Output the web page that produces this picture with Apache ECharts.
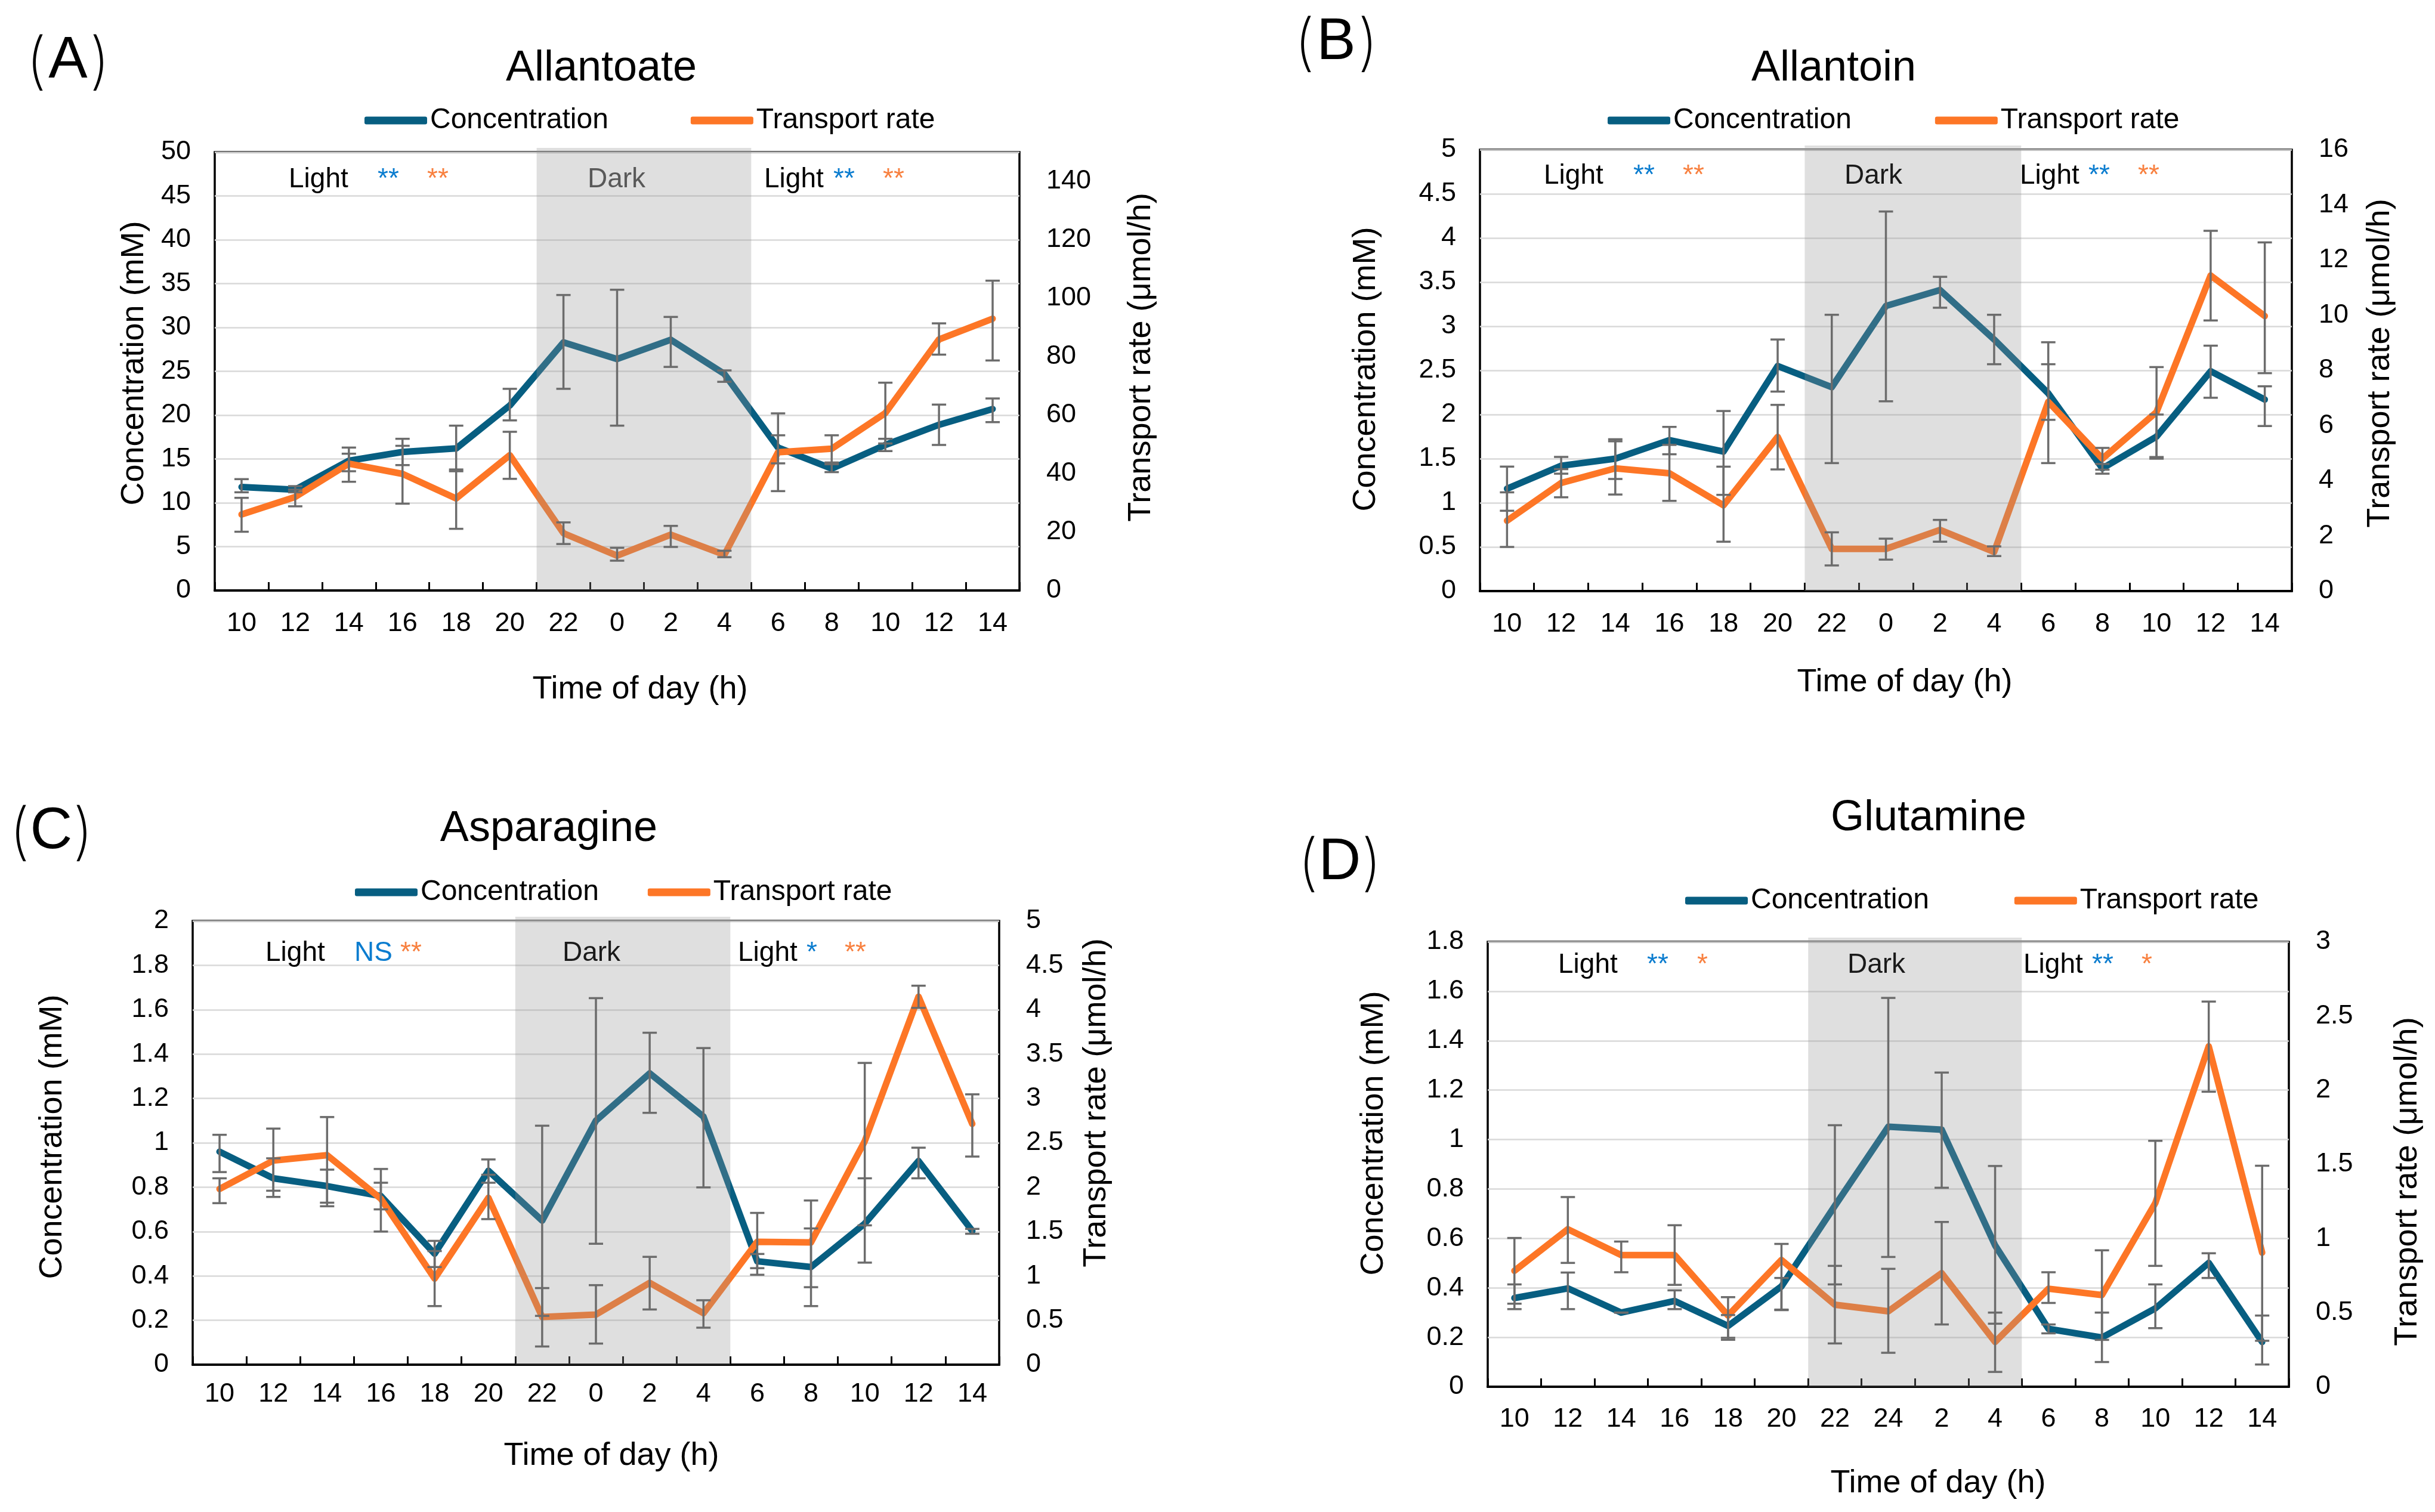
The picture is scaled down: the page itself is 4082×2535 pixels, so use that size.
<!DOCTYPE html>
<html><head><meta charset="utf-8">
<script src="https://cdn.jsdelivr.net/npm/echarts/dist/echarts.min.js"></script>
<style>html,body{margin:0;padding:0;background:#fff}#c{width:4082px;height:2535px}</style>
</head><body><div id="c"></div>
<script>
// ---------- categories ----------
const hoursAC = ['10','12','14','16','18','20','22','0','2','4','6','8','10','12','14'];
const hoursD  = ['10','12','14','16','18','20','22','24','2','4','6','8','10','12','14'];
const darkRange = [6, 9]; // dark period: category index 6 ('22') .. 9 ('4')

// ---------- (A) Allantoate ----------
const concA   = [11.8, 11.5, 14.8, 15.8, 16.2, 21.1, 28.3, 26.4, 28.6, 24.7, 16.3, 13.9, 16.6, 18.9, 20.7];
const concAHi = [12.7, 11.9, 16.3, 17.3, 18.8, 23.0, 33.7, 34.3, 31.2, 25.1, 17.7, 14.4, 17.3, 21.2, 21.9];
const concALo = [11.2, 11.2, 13.6, 14.3, 13.6, 19.4, 23.0, 18.8, 25.5, 23.8, 14.5, 13.5, 15.9, 16.6, 19.2];
const rateA   = [26.0, 32.0, 43.4, 39.9, 31.5, 46.3, 19.6, 11.9, 19.1, 12.2, 47.3, 48.5, 60.7, 85.9, 93.0];
const rateAHi = [31.7, 34.5, 46.8, 49.5, 41.4, 54.3, 23.3, 14.6, 22.1, 13.6, 60.6, 53.1, 71.1, 91.4, 106.0];
const rateALo = [20.1, 28.8, 37.2, 29.7, 21.1, 38.2, 15.9, 10.2, 14.9, 11.4, 34.0, 43.8, 50.3, 80.7, 78.7];
const axisA = [50, 5, 150, 20]; // left max, left step, right max, right step

// ---------- (B) Allantoin ----------
const concB   = [1.16, 1.42, 1.50, 1.71, 1.58, 2.55, 2.31, 3.23, 3.41, 2.85, 2.24, 1.39, 1.75, 2.49, 2.17];
const concBHi = [1.41, 1.52, 1.72, 1.86, 2.04, 2.85, 3.13, 4.30, 3.56, 3.13, 2.57, 1.44, 2.00, 2.78, 2.32];
const concBLo = [0.91, 1.33, 1.27, 1.55, 1.09, 2.26, 1.45, 2.15, 3.21, 2.57, 1.94, 1.33, 1.50, 2.19, 1.87];
const rateB   = [2.55, 3.92, 4.45, 4.27, 3.11, 5.59, 1.53, 1.53, 2.22, 1.42, 6.86, 4.80, 6.49, 11.44, 9.97];
const rateBHi = [3.58, 4.42, 5.43, 5.30, 4.51, 6.75, 2.13, 1.90, 2.58, 1.62, 9.02, 5.19, 8.12, 13.06, 12.64];
const rateBLo = [1.60, 3.40, 3.50, 3.27, 1.79, 4.41, 0.93, 1.14, 1.79, 1.27, 4.64, 4.40, 4.86, 9.81, 7.90];
const axisB = [5, 0.5, 16, 2];

// ---------- (C) Asparagine ----------
const concC   = [0.96, 0.84, 0.805, 0.76, 0.50, 0.874, 0.649, 1.10, 1.313, 1.118, 0.466, 0.44, 0.636, 0.918, 0.603];
const concCHi = [1.036, 0.93, 0.879, 0.82, 0.558, 0.925, 1.077, 1.652, 1.496, 1.427, 0.499, 0.614, 0.84, 0.978, 0.612];
const concCLo = [0.868, 0.756, 0.73, 0.70, 0.44, 0.82, 0.22, 0.545, 1.135, 0.799, 0.435, 0.264, 0.46, 0.84, 0.59];
const rateC   = [1.98, 2.30, 2.36, 1.87, 0.97, 1.88, 0.537, 0.564, 0.922, 0.58, 1.384, 1.378, 2.518, 4.147, 2.713];
const rateCHi = [2.10, 2.66, 2.79, 2.205, 1.28, 2.14, 0.863, 0.896, 1.215, 0.726, 1.71, 1.85, 3.40, 4.27, 3.046];
const rateCLo = [1.82, 1.96, 1.785, 1.50, 0.66, 1.64, 0.205, 0.238, 0.622, 0.417, 1.013, 0.873, 1.57, 4.02, 2.345];
const axisC = [2, 0.2, 5, 0.5];

// ---------- (D) Glutamine ----------
const concD   = [0.359, 0.398, 0.30, 0.347, 0.246, 0.406, 0.732, 1.052, 1.04, 0.572, 0.234, 0.199, 0.317, 0.501, 0.181];
const concDHi = [0.414, 0.462, 0.30, 0.39, 0.29, 0.44, 1.058, 1.573, 1.271, 0.893, 0.252, 0.30, 0.414, 0.54, 0.288];
const concDLo = [0.314, 0.314, 0.30, 0.314, 0.19, 0.31, 0.414, 0.525, 0.805, 0.255, 0.216, 0.10, 0.237, 0.44, 0.09];
const rateD   = [0.782, 1.062, 0.888, 0.888, 0.48, 0.855, 0.553, 0.509, 0.766, 0.302, 0.661, 0.618, 1.239, 2.295, 0.904];
const rateDHi = [1.003, 1.279, 0.979, 1.089, 0.604, 0.963, 0.815, 0.795, 1.111, 0.50, 0.772, 0.92, 1.658, 2.597, 1.49];
const rateDLo = [0.56, 0.835, 0.772, 0.687, 0.33, 0.52, 0.292, 0.229, 0.42, 0.10, 0.565, 0.316, 0.815, 1.989, 0.31];
const axisD = [1.8, 0.2, 3, 0.5];

// ---------- styling ----------
const FONT = "'Liberation Sans', Arial, sans-serif";
const TEAL = '#075e81';
const ORANGE = '#fd7626';
const ANN_BLUE = '#0a7ccf';
const ANN_ORANGE = '#f8803f';
const ERR = '#6c6c6c';

const panels = [
  { letter:'A', title:'Allantoate', cats:hoursAC, conc:concA, concHi:concAHi, concLo:concALo, rate:rateA, rateHi:rateAHi, rateLo:rateALo, ax:axisA,
    grid:{left:360, top:255, width:1349, height:735}, xMargin:33,
    letterPos:[114,103], titlePos:[1008,115], legend:{left:611, y:202, gap:138},
    yName:[225,609], y2Name:[1913,599], xName:[1073,1156], darkColor:'#595959',
    noteY:301, notes:[['Light',484,'#000'],['**',633,ANN_BLUE],['**',716,ANN_ORANGE],['Dark',985,'dark'],['Light',1281,'#000'],['**',1397,ANN_BLUE],['**',1480,ANN_ORANGE]] },
  { letter:'B', title:'Allantoin', cats:hoursAC, conc:concB, concHi:concBHi, concLo:concBLo, rate:rateB, rateHi:rateBHi, rateLo:rateBLo, ax:axisB,
    grid:{left:2481, top:251, width:1361, height:740}, xMargin:33,
    letterPos:[2240,72], titlePos:[3074,115], legend:{left:2695, y:202, gap:140},
    yName:[2290,619], y2Name:[3990,609], xName:[3193,1144], darkColor:'#1a1a1a',
    noteY:295, notes:[['Light',2588,'#000'],['**',2738,ANN_BLUE],['**',2821,ANN_ORANGE],['Dark',3092,'dark'],['Light',3386,'#000'],['**',3501,ANN_BLUE],['**',3584,ANN_ORANGE]] },
  { letter:'C', title:'Asparagine', cats:hoursAC, conc:concC, concHi:concCHi, concLo:concCLo, rate:rateC, rateHi:rateCHi, rateLo:rateCLo, ax:axisC,
    grid:{left:323, top:1544, width:1352, height:744}, xMargin:27,
    letterPos:[86,1395], titlePos:[920,1390], legend:{left:595, y:1496, gap:82},
    yName:[88,1906], y2Name:[1838,1849], xName:[1025,2441], darkColor:'#1a1a1a',
    noteY:1598, notes:[['Light',445,'#000'],['NS',594,ANN_BLUE],['**',671,ANN_ORANGE],['Dark',943,'dark'],['Light',1237,'#000'],['*',1352,ANN_BLUE],['**',1416,ANN_ORANGE]] },
  { letter:'D', title:'Glutamine', cats:hoursD, conc:concD, concHi:concDHi, concLo:concDLo, rate:rateD, rateHi:rateDHi, rateLo:rateDLo, ax:axisD,
    grid:{left:2494, top:1579, width:1343, height:746}, xMargin:32,
    letterPos:[2246,1447], titlePos:[3233,1372], legend:{left:2825, y:1510, gap:143},
    yName:[2303,1900], y2Name:[4036,1981], xName:[3249,2487], darkColor:'#1a1a1a',
    noteY:1618, notes:[['Light',2612,'#000'],['**',2761,ANN_BLUE],['*',2845,ANN_ORANGE],['Dark',3097,'dark'],['Light',3392,'#000'],['**',3507,ANN_BLUE],['*',3590,ANN_ORANGE]] }
];

function renderErr(params, api) {
  const x = api.value(0);
  const lo = api.coord([x, api.value(1)]);
  const hi = api.coord([x, api.value(2)]);
  const cw = 12;
  const st = { stroke: ERR, lineWidth: 3.5 };
  return { type:'group', children:[
    { type:'line', shape:{x1:lo[0], y1:lo[1], x2:hi[0], y2:hi[1]}, style:st },
    { type:'line', shape:{x1:lo[0]-cw, y1:lo[1], x2:lo[0]+cw, y2:lo[1]}, style:st },
    { type:'line', shape:{x1:hi[0]-cw, y1:hi[1], x2:hi[0]+cw, y2:hi[1]}, style:st }
  ]};
}
function renderBand(params, api) {
  const s = api.coord([api.value(0), 0]);
  const e = api.coord([api.value(1), 0]);
  const bw = api.size([1, 0])[0];
  const cs = params.coordSys;
  return { type:'rect', shape:{ x: s[0]-bw/2, y: cs.y - 7, width: e[0]-s[0]+bw, height: cs.height + 7 },
           style:{ fill:'rgba(150,150,150,0.30)' } };
}

const grids = [], xAxes = [], yAxes = [], series = [], legends = [], graphics = [];
panels.forEach((p, i) => {
  grids.push(Object.assign({ show:true, borderColor:'#000', borderWidth:3.5, backgroundColor:'transparent', containLabel:false }, p.grid));
  xAxes.push({ type:'category', gridIndex:i, data:p.cats, boundaryGap:true,
    axisLine:{ show:true, lineStyle:{ color:'#000', width:4 } },
    axisTick:{ show:true, inside:true, length:14, interval:0, lineStyle:{ color:'#000', width:3 } },
    axisLabel:{ interval:0, fontSize:45, color:'#000', fontFamily:FONT, margin:p.xMargin },
    splitLine:{ show:false } });
  yAxes.push({ type:'value', gridIndex:i, position:'left', min:0, max:p.ax[0], interval:p.ax[1],
    axisLine:{ show:false }, axisTick:{ show:false },
    axisLabel:{ fontSize:45, color:'#000', fontFamily:FONT, margin:40 },
    splitLine:{ show:true, lineStyle:{ color:'#d9d9d9', width:2.5 } } });
  yAxes.push({ type:'value', gridIndex:i, position:'right', min:0, max:p.ax[2], interval:p.ax[3],
    axisLine:{ show:false }, axisTick:{ show:false },
    axisLabel:{ fontSize:45, color:'#000', fontFamily:FONT, margin:45, showMaxLabel: (Math.abs(p.ax[2]/p.ax[3] - Math.round(p.ax[2]/p.ax[3])) < 1e-9) },
    splitLine:{ show:false } });

  series.push({ type:'line', name:'Concentration', xAxisIndex:i, yAxisIndex:2*i, data:p.conc, color:TEAL,
    symbol:'none', lineStyle:{ width:11, color:TEAL, cap:'round', join:'round' }, z:2, animation:false });
  series.push({ type:'line', name:'Transport rate', xAxisIndex:i, yAxisIndex:2*i+1, data:p.rate, color:ORANGE,
    symbol:'none', lineStyle:{ width:11, color:ORANGE, cap:'round', join:'round' }, z:3, animation:false });
  series.push({ type:'custom', xAxisIndex:i, yAxisIndex:2*i, data:[[darkRange[0], darkRange[1], 0]],
    encode:{ x:[0,1], y:2 }, renderItem:renderBand, z:4, silent:true, animation:false });
  series.push({ type:'custom', xAxisIndex:i, yAxisIndex:2*i, data:p.conc.map((v,j)=>[j, p.concLo[j], p.concHi[j]]),
    encode:{ x:0, y:[1,2] }, renderItem:renderErr, z:5, silent:true, animation:false });
  series.push({ type:'custom', xAxisIndex:i, yAxisIndex:2*i+1, data:p.rate.map((v,j)=>[j, p.rateLo[j], p.rateHi[j]]),
    encode:{ x:0, y:[1,2] }, renderItem:renderErr, z:5, silent:true, animation:false });

  legends.push({ data:['Concentration','Transport rate'], left:p.legend.left, top:p.legend.y - 24, padding:0,
    icon:'roundRect', itemWidth:105, itemHeight:13, itemGap:p.legend.gap, selectedMode:false,
    textStyle:{ fontSize:48, color:'#000', fontFamily:FONT, lineHeight:48 } });

  const txt = (t, x, y, fs, fill, extra) => Object.assign({ type:'text', x:x, y:y, z:100,
    style:{ text:t, fontSize:fs, fontFamily:FONT, fill:fill, align:'center', verticalAlign:'middle' } }, extra || {});
  // panel letter
  graphics.push(txt(p.letter, p.letterPos[0], p.letterPos[1], 98, '#000'));
  graphics.push({ type:'text', x:p.letterPos[0]-36, y:p.letterPos[1]+4, z:100,
    style:{ text:'(', fontSize:104, fontFamily:"Inter, 'Liberation Sans', sans-serif", fontWeight:200, fill:'#000', align:'right', verticalAlign:'middle' } });
  graphics.push({ type:'text', x:p.letterPos[0]+36, y:p.letterPos[1]+4, z:100,
    style:{ text:')', fontSize:104, fontFamily:"Inter, 'Liberation Sans', sans-serif", fontWeight:200, fill:'#000', align:'left', verticalAlign:'middle' } });
  // title
  graphics.push(txt(p.title, p.titlePos[0], p.titlePos[1], 72, '#000'));
  // axis names
  graphics.push(txt('Concentration (mM)', p.yName[0], p.yName[1], 54, '#000', { rotation: Math.PI/2 }));
  graphics.push(txt('Transport rate (μmol/h)', p.y2Name[0], p.y2Name[1], 54, '#000', { rotation: Math.PI/2 }));
  graphics.push(txt('Time of day (h)', p.xName[0], p.xName[1], 54, '#000'));
  // annotations
  p.notes.forEach(n => {
    const fill = n[2] === 'dark' ? p.darkColor : n[2];
    graphics.push({ type:'text', x:n[1], y:p.noteY, z:100,
      style:{ text:n[0], fontSize:46, fontFamily:FONT, fill:fill, align:'left', verticalAlign:'middle' } });
  });
});

const chart = echarts.init(document.getElementById('c'), null, { renderer:'canvas' });
chart.setOption({
  backgroundColor:'#ffffff',
  animation:false,
  grid:grids, xAxis:xAxes, yAxis:yAxes, series:series, legend:legends,
  graphic:{ elements:graphics }
});
</script></body></html>
